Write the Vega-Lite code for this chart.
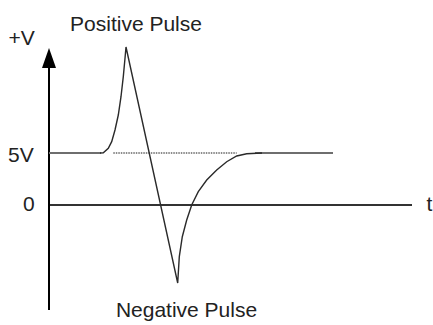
{
  "$schema": "https://vega.github.io/schema/vega-lite/v6.json",
  "width": 433,
  "height": 325,
  "padding": 0,
  "autosize": {"type": "none"},
  "background": "white",
  "config": {"view": {"stroke": null}},
  "datasets": {
    "pulse": [
      {"t": 5.1, "v": 5.0},
      {"t": 5.43, "v": 5.02},
      {"t": 5.93, "v": 5.45},
      {"t": 6.27, "v": 6.09},
      {"t": 6.6, "v": 7.21},
      {"t": 6.93, "v": 8.65},
      {"t": 7.2, "v": 10.41},
      {"t": 7.43, "v": 12.34},
      {"t": 7.6, "v": 14.11},
      {"t": 7.7, "v": 15.19},
      {"t": 12.87, "v": -7.5},
      {"t": 13.03, "v": -4.97},
      {"t": 13.33, "v": -3.05},
      {"t": 13.77, "v": -1.44},
      {"t": 14.27, "v": 0.0},
      {"t": 14.93, "v": 1.28},
      {"t": 15.77, "v": 2.4},
      {"t": 16.77, "v": 3.37},
      {"t": 17.77, "v": 4.16},
      {"t": 18.77, "v": 4.71},
      {"t": 19.77, "v": 4.92},
      {"t": 20.77, "v": 4.98},
      {"t": 21.3, "v": 5.0}
    ],
    "flat": [
      {"seg": "before", "t": 0.0, "v": 5.0},
      {"seg": "before", "t": 5.2, "v": 5.0},
      {"seg": "after", "t": 20.6, "v": 5.0},
      {"seg": "after", "t": 28.4, "v": 5.0}
    ]
  },
  "encoding": {
    "x": {"field": "t", "type": "quantitative", "scale": {"domain": [-4.9, 38.4], "nice": false, "zero": false}, "axis": null},
    "y": {"field": "v", "type": "quantitative", "scale": {"domain": [-11.54, 19.71], "nice": false, "zero": false}, "axis": null}
  },
  "layer": [
    {
      "data": {"values": [{"t": 6.43, "t2": 18.77, "v": 5.0}]},
      "mark": {"type": "rule", "color": "#8c8c8c", "strokeWidth": 2, "strokeDash": [1.5, 1]},
      "encoding": {"x2": {"field": "t2"}}
    },
    {
      "data": {"values": [{"t": 0, "t2": 36.3, "v": 0}]},
      "mark": {"type": "rule", "color": "#333333", "strokeWidth": 2},
      "encoding": {"x2": {"field": "t2"}}
    },
    {
      "data": {"values": [{"t": 0, "v": -10.1, "v2": 13.7}]},
      "mark": {"type": "rule", "color": "#000000", "strokeWidth": 2},
      "encoding": {"y2": {"field": "v2"}}
    },
    {
      "data": {"values": [{"t": 0, "v": 14.13}]},
      "mark": {"type": "point", "shape": "M0,-1L-0.7,1L0.7,1Z", "size": 400, "filled": true, "color": "#000000", "opacity": 1, "strokeWidth": 0}
    },
    {
      "data": {"name": "flat"},
      "mark": {"type": "line", "color": "#6e6e6e", "strokeWidth": 2},
      "encoding": {"detail": {"field": "seg"}}
    },
    {
      "data": {"name": "pulse"},
      "mark": {"type": "line", "color": "#2a2a2a", "strokeWidth": 1.4}
    },
    {
      "data": {"values": [
        {"label": "Positive Pulse", "t": 8.7, "v": 16.76},
        {"label": "Negative Pulse", "t": 13.75, "v": -10.8}
      ]},
      "mark": {"type": "text", "align": "center", "baseline": "alphabetic", "font": "Liberation Sans", "fontSize": 21, "color": "#222222"},
      "encoding": {"text": {"field": "label"}}
    },
    {
      "data": {"values": [
        {"label": "+V", "t": -4.05, "v": 15.38},
        {"label": "5V", "t": -4.1, "v": 4.16},
        {"label": "0", "t": -2.6, "v": -0.58},
        {"label": "t", "t": 37.75, "v": -0.58}
      ]},
      "mark": {"type": "text", "align": "left", "baseline": "alphabetic", "font": "Liberation Sans", "fontSize": 21, "color": "#222222"},
      "encoding": {"text": {"field": "label"}}
    }
  ]
}
